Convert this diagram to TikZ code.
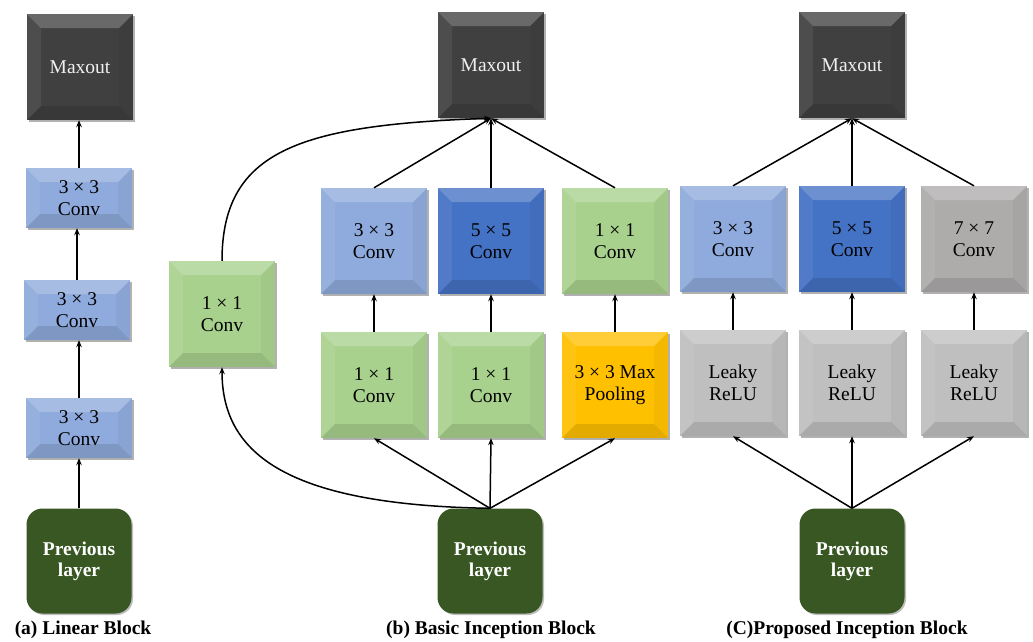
\documentclass[tikz,border=0pt]{standalone}
\usepackage{fontspec}
\setmainfont{Liberation Serif}
\usetikzlibrary{arrows.meta,shadows}
\definecolor{maxc}{HTML}{404040}
\definecolor{maxtext}{HTML}{F0F0F0}
\definecolor{lblue}{HTML}{8FAADC}
\definecolor{dblue}{HTML}{4472C4}
\definecolor{lgreen}{HTML}{A9D18E}
\definecolor{goldc}{HTML}{FFC000}
\definecolor{mgray}{HTML}{AEABAB}
\definecolor{lgray}{HTML}{BFBFBF}
\definecolor{dgreen}{HTML}{385723}
\def\bv{14pt}
\tikzset{
  bev/.style={path picture={
    \path (path picture bounding box.north west) coordinate (bnw)
          (path picture bounding box.north east) coordinate (bne)
          (path picture bounding box.south west) coordinate (bsw)
          (path picture bounding box.south east) coordinate (bse);
    \fill[white,opacity=.22] (bnw) -- (bne) -- ([shift={(-\bv,-\bv)}]bne) -- ([shift={(\bv,-\bv)}]bnw) -- cycle;
    \fill[white,opacity=.07] (bnw) -- ([shift={(\bv,-\bv)}]bnw) -- ([shift={(\bv,\bv)}]bsw) -- (bsw) -- cycle;
    \fill[black,opacity=.04] (bne) -- (bse) -- ([shift={(-\bv,\bv)}]bse) -- ([shift={(-\bv,-\bv)}]bne) -- cycle;
    \fill[black,opacity=.11] (bsw) -- ([shift={(\bv,\bv)}]bsw) -- ([shift={(-\bv,\bv)}]bse) -- (bse) -- cycle;
  }},
  blk/.style={rectangle, minimum width=106pt, minimum height=106pt, inner sep=0pt,
    align=center, font=\fontsize{19.5}{22}\selectfont, bev,
    drop shadow={shadow xshift=1.5pt, shadow yshift=-1.5pt, opacity=.3, fill=black}},
  wide/.style={blk, minimum height=60pt},
  maxbox/.style={blk, fill=maxc, text=maxtext},
  prevbox/.style={rectangle, rounded corners=16pt, minimum width=105pt, minimum height=105pt,
    inner sep=0pt, align=center, fill=dgreen, text=white,
    font=\fontsize{19.5}{21}\selectfont\bfseries,
    drop shadow={shadow xshift=1.5pt, shadow yshift=-1.5pt, opacity=.25, fill=black}},
  captext/.style={font=\fontsize{19.5}{22}\selectfont\bfseries, inner sep=0pt},
  ln/.style={line width=1.5pt},
  arr/.style={ln, -{Stealth[length=7pt,width=5.5pt]}},
}
\begin{document}
\begin{tikzpicture}[x=1pt,y=-1pt]
\useasboundingbox[fill=white] (0,0) rectangle (1033,641);

% (a) Linear block
\node[maxbox] (amax) at (80,67) {Maxout};
\node[wide, fill=lblue] (ac1) at (79,198) {3 × 3\\Conv};
\node[wide, fill=lblue] (ac2) at (77,310) {3 × 3\\Conv};
\node[wide, fill=lblue] (ac3) at (79,428) {3 × 3\\Conv};
\node[prevbox] (aprev) at (79,561) {Previous\\layer};
\node[captext] (capa) at (83,630) {(a) Linear Block};
\draw[arr] (aprev.north) -- (ac3.south);
\draw[arr] (ac3.north) -- (ac3.north |- ac2.south);
\draw[arr] (ac2.north) -- (ac2.north |- ac1.south);
\draw[arr] (ac1.north) -- (ac1.north |- amax.south);

% (b) Basic inception block
\node[maxbox] (bmax) at (491,65) {Maxout};
\node[blk, fill=lgreen] (bl11) at (222,314) {1 × 1\\Conv};
\node[blk, fill=lblue] (b33) at (374,241) {3 × 3\\Conv};
\node[blk, fill=dblue] (b55) at (491,241) {5 × 5\\Conv};
\node[blk, fill=lgreen] (b11r) at (615,241) {1 × 1\\Conv};
\node[blk, fill=lgreen] (b11a) at (374,385) {1 × 1\\Conv};
\node[blk, fill=lgreen] (b11b) at (491,385) {1 × 1\\Conv};
\node[blk, fill=goldc] (bpool) at (615,385) {3 × 3 Max\\Pooling};
\node[prevbox] (bprev) at (490,561) {Previous\\layer};
\node[captext] (capb) at (491,630) {(b) Basic Inception Block};
\draw[arr] (bprev.north) -- (b11a.south);
\draw[arr] (bprev.north) -- (b11b.south);
\draw[arr] (bprev.north) -- (bpool.south);
\draw[arr] (bprev.north) .. controls (280,505) and (222,450) .. (bl11.south);
\draw[arr] (b11a.north) -- (b33.south);
\draw[arr] (b11b.north) -- (b55.south);
\draw[arr] (bpool.north) -- (b11r.south);
\draw[arr] (b33.north) -- (bmax.south);
\draw[arr] (b55.north) -- (bmax.south);
\draw[arr] (b11r.north) -- (bmax.south);
\draw[arr] (bl11.north) .. controls (222,150) and (300,125) .. (bmax.south);

% (c) Proposed inception block
\node[maxbox] (cmax) at (852,65) {Maxout};
\node[blk, fill=lblue] (c33) at (733,239) {3 × 3\\Conv};
\node[blk, fill=dblue] (c55) at (852,239) {5 × 5\\Conv};
\node[blk, fill=mgray] (c77) at (974,239) {7 × 7\\Conv};
\node[blk, fill=lgray] (cl1) at (733,383) {Leaky\\ReLU};
\node[blk, fill=lgray] (cl2) at (852,383) {Leaky\\ReLU};
\node[blk, fill=lgray] (cl3) at (974,383) {Leaky\\ReLU};
\node[prevbox] (cprev) at (852,561) {Previous\\layer};
\node[captext] (capc) at (847,630) {(C)Proposed Inception Block};
\draw[arr] (cprev.north) -- (cl1.south);
\draw[arr] (cprev.north) -- (cl2.south);
\draw[arr] (cprev.north) -- (cl3.south);
\draw[arr] (cl1.north) -- (c33.south);
\draw[arr] (cl2.north) -- (c55.south);
\draw[arr] (cl3.north) -- (c77.south);
\draw[arr] (c33.north) -- (cmax.south);
\draw[arr] (c55.north) -- (cmax.south);
\draw[arr] (c77.north) -- (cmax.south);
\end{tikzpicture}
\end{document}
